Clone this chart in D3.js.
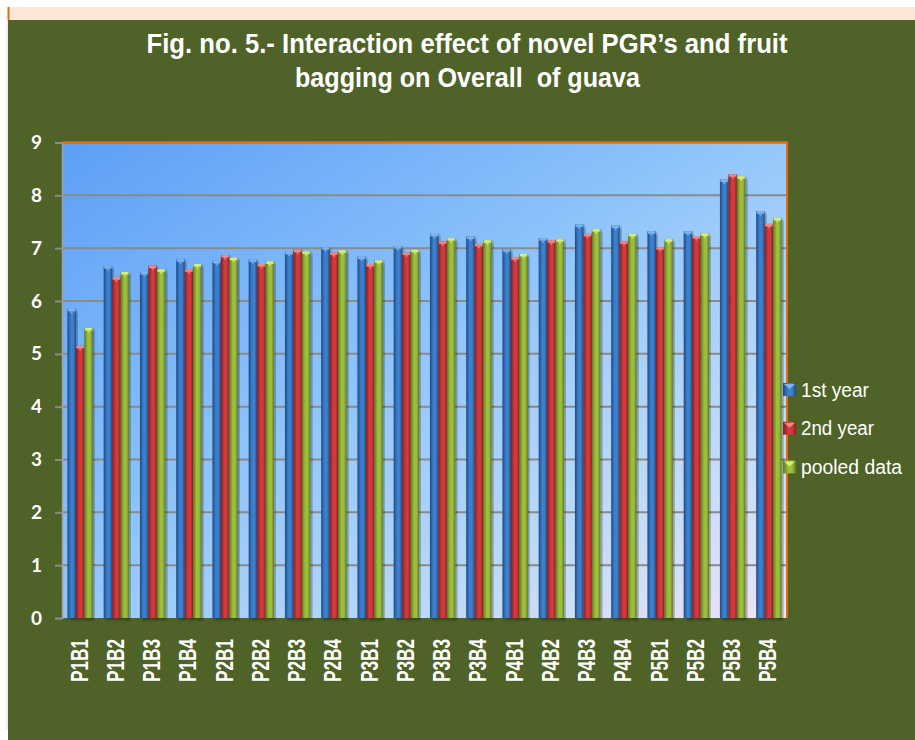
<!DOCTYPE html>
<meta charset="utf-8">
<style>
  body { margin: 0; background: #fff; }
  svg text { fill: #fff; }
</style>
<script src="https://d3js.org/d3.v7.min.js"></script>
<div id="my_dataviz"></div>
<script>

// data
var categories = ["P1B1","P1B2","P1B3","P1B4","P2B1","P2B2","P2B3","P2B4","P3B1","P3B2",
                  "P3B3","P3B4","P4B1","P4B2","P4B3","P4B4","P5B1","P5B2","P5B3","P5B4"];
var year1  = [5.85,6.66,6.55,6.79,6.76,6.79,6.93,7.02,6.84,7.04,7.27,7.22,6.98,7.19,7.45,7.43,7.32,7.32,8.30,7.70];
var year2  = [5.15,6.45,6.67,6.60,6.87,6.70,6.97,6.92,6.70,6.92,7.13,7.08,6.83,7.15,7.27,7.13,7.02,7.23,8.40,7.46];
var pooled = [5.49,6.55,6.60,6.70,6.82,6.75,6.94,6.96,6.77,6.97,7.19,7.15,6.89,7.17,7.36,7.27,7.17,7.28,8.36,7.57];
var seriesNames = ["1st year", "2nd year", "pooled data"];
var yTicks = [0,1,2,3,4,5,6,7,8,9];

var series = [year1, year2, pooled];

// bar colours: edge, middle, cap
var barColors = [
  {edge: "#1d4a86", mid: "#3c7fcb", cap: "#7fb4ee"},
  {edge: "#861d1f", mid: "#cf3a3c", cap: "#f08a8a"},
  {edge: "#5a7a1c", mid: "#9dbd3e", cap: "#d6ee7a"}
];

var W = 915, H = 740;
var plot = {left: 62, right: 787, top: 142.5, bottom: 618};

var svg = d3.select("#my_dataviz").append("svg")
  .attr("width", W).attr("height", H);

var defs = svg.append("defs");

// plot area background gradient
var bg = defs.append("linearGradient").attr("id", "plotBg")
  .attr("x1", "0%").attr("y1", "0%").attr("x2", "100%").attr("y2", "100%");
bg.append("stop").attr("offset", "0%").attr("stop-color", "#5c9ff6");
bg.append("stop").attr("offset", "45%").attr("stop-color", "#8fc4fb");
bg.append("stop").attr("offset", "75%").attr("stop-color", "#bcdaf7");
bg.append("stop").attr("offset", "100%").attr("stop-color", "#efe4f4");

barColors.forEach(function(c, i) {
  var g = defs.append("linearGradient").attr("id", "bar" + i)
    .attr("x1", "0%").attr("x2", "100%").attr("y1", "0%").attr("y2", "0%");
  g.append("stop").attr("offset", "0%").attr("stop-color", c.edge);
  g.append("stop").attr("offset", "40%").attr("stop-color", c.mid);
  g.append("stop").attr("offset", "70%").attr("stop-color", c.mid);
  g.append("stop").attr("offset", "100%").attr("stop-color", c.edge);
});

var shadow = defs.append("filter").attr("id", "shadow")
  .attr("x", "-10%").attr("y", "-10%").attr("width", "130%").attr("height", "130%");
shadow.append("feDropShadow").attr("dx", 2).attr("dy", 2).attr("stdDeviation", 1.5)
  .attr("flood-color", "#000").attr("flood-opacity", 0.35);

// page frame
svg.append("rect").attr("x", 8).attr("y", 7).attr("width", W - 8).attr("height", 13).attr("fill", "#fde7d8");
svg.append("line").attr("x1", 8.5).attr("x2", 8.5).attr("y1", 7).attr("y2", 20)
  .attr("stroke", "#e46c0a").attr("stroke-width", 2);
svg.append("line").attr("x1", 7).attr("x2", 7).attr("y1", 20).attr("y2", 730)
  .attr("stroke", "#f2d8cc").attr("stroke-width", 1);
svg.append("rect").attr("x", 8).attr("y", 20).attr("width", W - 8).attr("height", H - 20).attr("fill", "#4f6228");

// title (the double space is kept with a no-break space)
var title = svg.append("g").attr("font-family", "'Liberation Sans Narrow','Arial Narrow','Liberation Sans',Arial,sans-serif")
  .attr("font-weight", "bold").attr("font-size", 28).attr("text-anchor", "middle");
title.append("text").attr("x", 467).attr("y", 53)
  .attr("textLength", 641).attr("lengthAdjust", "spacingAndGlyphs")
  .text("Fig. no. 5.- Interaction effect of novel PGR\u2019s and fruit");
title.append("text").attr("x", 467.5).attr("y", 87)
  .attr("textLength", 345).attr("lengthAdjust", "spacingAndGlyphs")
  .text("bagging on Overall\u00a0 of guava");

// scales
var y = d3.scaleLinear().domain([0, 9]).range([plot.bottom, plot.top]);
var x0 = d3.scaleBand().domain(categories).range([plot.left, plot.right])
  .paddingInner(0.3).paddingOuter(0.15);
var x1 = d3.scaleBand().domain(d3.range(series.length)).range([0, x0.bandwidth()]);

// plot area
svg.append("rect")
  .attr("x", plot.left).attr("y", plot.top)
  .attr("width", plot.right - plot.left).attr("height", plot.bottom - plot.top)
  .attr("fill", "url(#plotBg)");

// gridlines
svg.append("g").selectAll("line").data(yTicks.filter(function(d) { return d > 0; }))
  .join("line")
    .attr("x1", plot.left).attr("x2", plot.right)
    .attr("y1", function(d) { return y(d); }).attr("y2", function(d) { return y(d); })
    .attr("stroke", "#8a8a8a").attr("stroke-width", 2);

// y axis
var yAxis = svg.append("g")
  .attr("transform", "translate(" + plot.left + ",0)")
  .call(d3.axisLeft(y).tickValues(yTicks).tickSize(7).tickPadding(13).tickFormat(d3.format("d")));
yAxis.select(".domain").attr("stroke", "#a0a0a0").attr("stroke-width", 1.5);
yAxis.selectAll(".tick line").attr("stroke", "#8a8a8a").attr("stroke-width", 2);
yAxis.selectAll(".tick text")
  .attr("fill", "#fff")
  .style("font-family", "Lato, 'Open Sans', sans-serif")
  .style("font-weight", "bold").style("font-size", "19px");

// bars
var groups = svg.append("g").selectAll("g").data(categories)
  .join("g")
    .attr("transform", function(d) { return "translate(" + x0(d) + ",0)"; });

groups.each(function(cat, ci) {
  var g = d3.select(this);
  series.forEach(function(vals, si) {
    var v = vals[ci];
    var bx = x1(si), bw = x1.bandwidth();
    g.append("rect")
      .attr("x", bx).attr("y", y(v))
      .attr("width", bw).attr("height", y(0) - y(v))
      .attr("fill", "url(#bar" + si + ")")
      .attr("filter", "url(#shadow)");
    // little top cap
    g.append("rect")
      .attr("x", bx + 0.5).attr("y", y(v))
      .attr("width", bw - 1).attr("height", 2.5)
      .attr("fill", barColors[si].cap);
    g.append("path")
      .attr("d", "M" + (bx + bw * 0.3) + "," + (y(v) + 2.5) + "L" + (bx + bw * 0.7) + "," + (y(v) + 2.5) +
                 "L" + (bx + bw * 0.5) + "," + (y(v) + 5) + "Z")
      .attr("fill", barColors[si].cap).attr("opacity", 0.8);
  });
});

// plot border: orange top/right, grey baseline
svg.append("line").attr("x1", plot.left).attr("x2", plot.right + 1)
  .attr("y1", plot.top).attr("y2", plot.top)
  .attr("stroke", "#e46c0a").attr("stroke-width", 2);
svg.append("line").attr("x1", plot.right).attr("x2", plot.right)
  .attr("y1", plot.top).attr("y2", plot.bottom)
  .attr("stroke", "#e46c0a").attr("stroke-width", 2);
svg.append("line").attr("x1", 55).attr("x2", plot.right + 1)
  .attr("y1", plot.bottom).attr("y2", plot.bottom)
  .attr("stroke", "#8a8a8a").attr("stroke-width", 2.5)
  .attr("filter", "url(#shadow)");

// x labels, rotated
svg.append("g").selectAll("text").data(categories)
  .join("text")
    .attr("transform", function(d) {
      return "translate(" + (x0(d) + x0.bandwidth() / 2 + 7.5) + ",639) rotate(-90)";
    })
    .attr("text-anchor", "end")
    .attr("textLength", 43).attr("lengthAdjust", "spacingAndGlyphs")
    .style("font-family", "'Liberation Sans', Arial, sans-serif")
    .style("font-weight", "bold").style("font-size", "23px")
    .text(function(d) { return d; });

// legend
var legendW = [68, 73, 101];
var legend = svg.append("g").selectAll("g").data(seriesNames)
  .join("g")
    .attr("transform", function(d, i) { return "translate(783," + (383 + i * 38.7) + ")"; });
legend.append("rect").attr("width", 13).attr("height", 13)
  .attr("fill", function(d, i) { return "url(#bar" + i + ")"; });
legend.append("path")
  .attr("d", "M1,1L12,1L6.5,6Z")
  .attr("fill", function(d, i) { return barColors[i].cap; });
legend.append("text")
  .attr("x", 18).attr("y", 13.5)
  .attr("textLength", function(d, i) { return legendW[i]; })
  .attr("lengthAdjust", "spacingAndGlyphs")
  .style("font-family", "'Liberation Sans', Arial, sans-serif")
  .style("font-size", "20px")
  .text(function(d) { return d; });

</script>
